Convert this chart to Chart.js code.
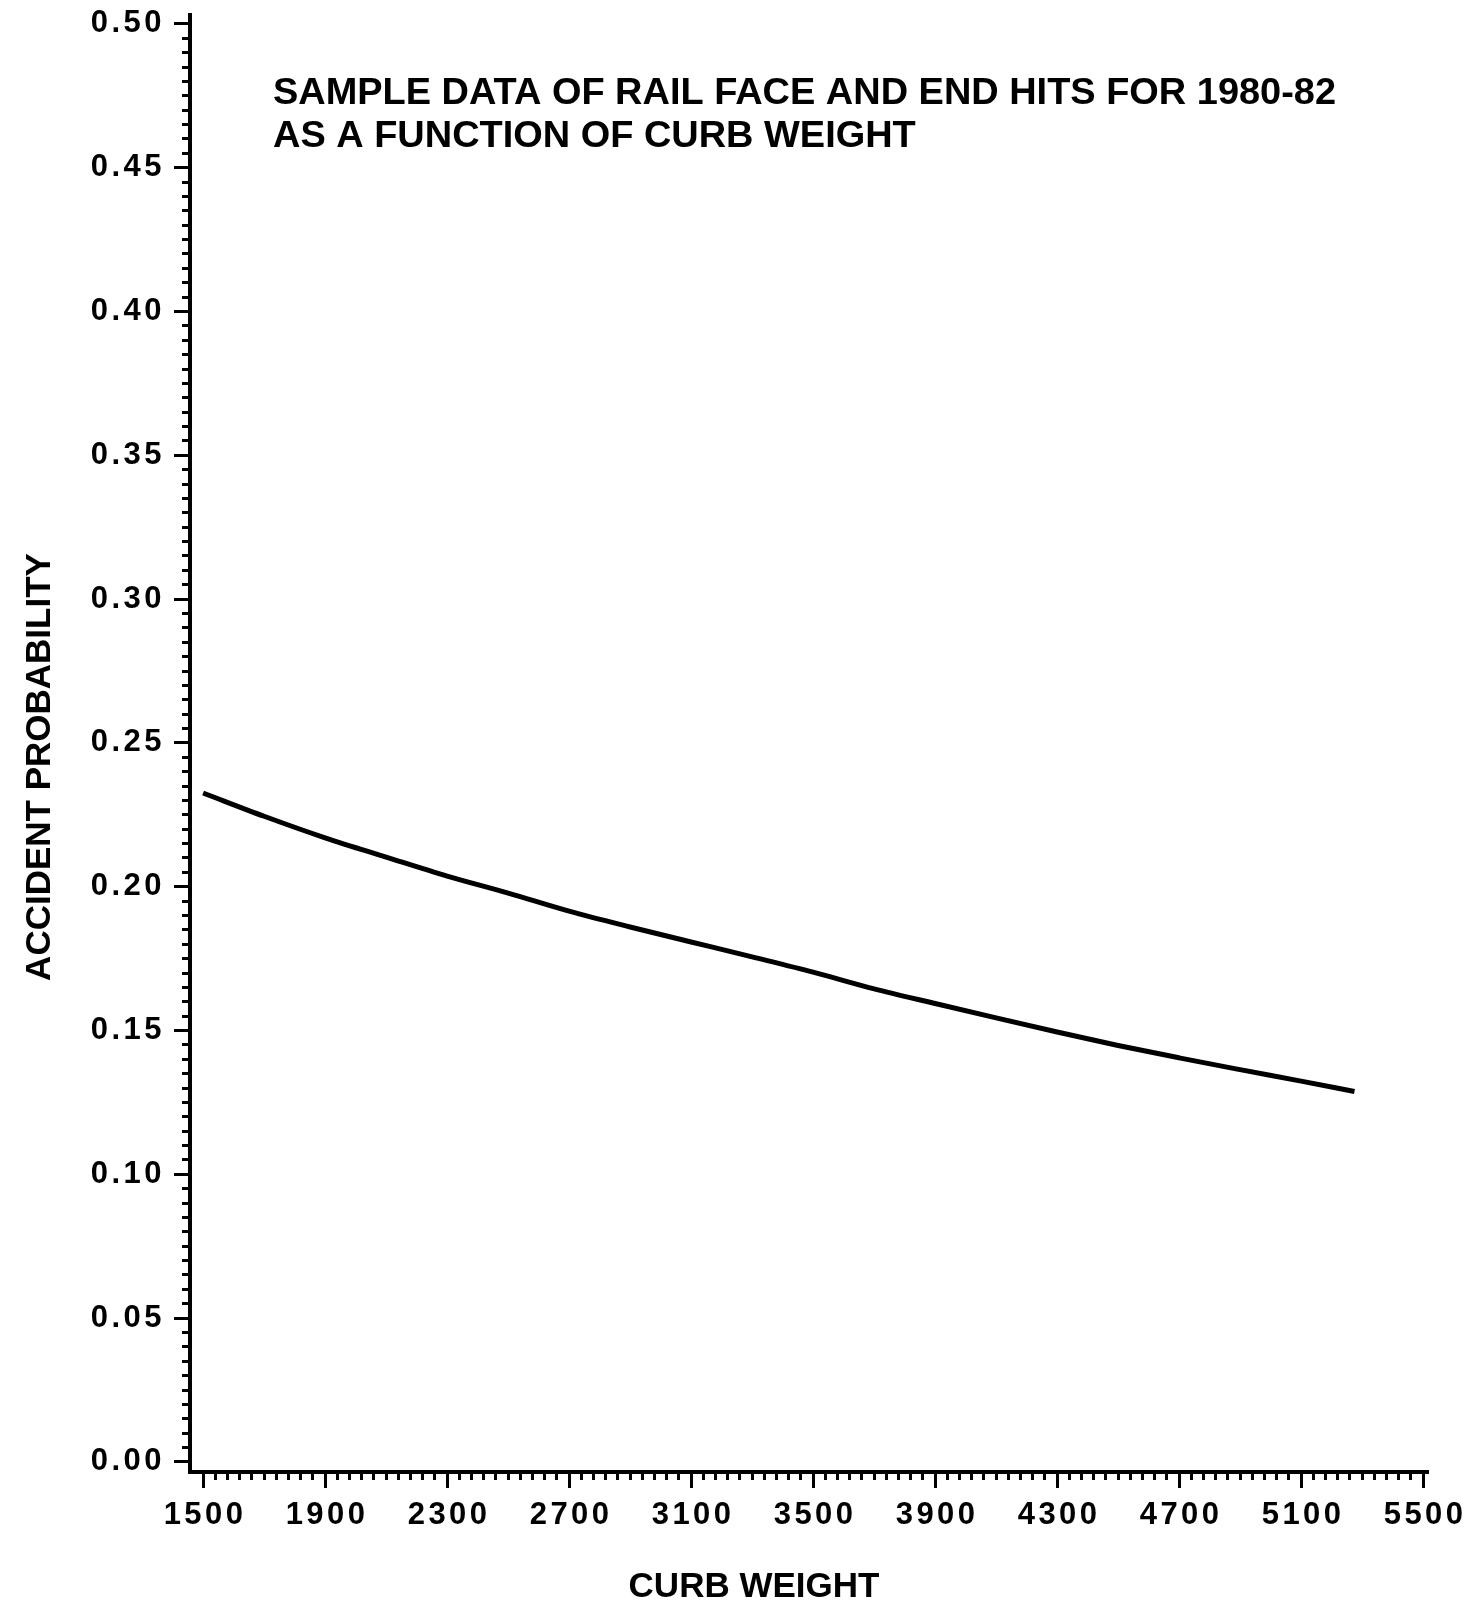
<!DOCTYPE html>
<html><head><meta charset="utf-8">
<script src="https://cdn.jsdelivr.net/npm/chart.js@4"></script>
<style>html,body{margin:0;padding:0;background:#fff}#wrap{width:1470px;height:1602px}</style>
</head><body><div id="wrap"><canvas id="c" width="1470" height="1602"></canvas></div>
<script>
const curbWeight = [1500,1700,1900,2100,2300,2500,2700,2900,3100,3300,3500,3700,3900,4100,4300,4500,4700,4900,5100,5275];
const probability = [0.2326,0.2245,0.2170,0.2103,0.2037,0.1978,0.1915,0.1860,0.1808,0.1756,0.1703,0.1645,0.1594,0.1544,0.1495,0.1448,0.1405,0.1364,0.1324,0.1288];
const xTickValues = [1500,1900,2300,2700,3100,3500,3900,4300,4700,5100,5500];
const yTickValues = [0,0.05,0.10,0.15,0.20,0.25,0.30,0.35,0.40,0.45,0.50];
const yTickLabels = ['0.00','0.05','0.10','0.15','0.20','0.25','0.30','0.35','0.40','0.45','0.50'];
const xMinorStep = 40;
const yMinorStep = 0.005;
const titleLines = ['SAMPLE DATA OF RAIL FACE AND END HITS FOR 1980-82','AS A FUNCTION OF CURB WEIGHT'];
const xAxisTitle = 'CURB WEIGHT';
const yAxisTitle = 'ACCIDENT PROBABILITY';

const X_MIN = 1457, X_MAX = 5516, Y_MIN = -0.0035, Y_MAX = 0.5031;
const FONT = '"Liberation Sans", Arial, Helvetica, sans-serif';

function minorTicks(from, to, step) {
  const out = [];
  const n = Math.round((to - from) / step);
  for (let i = 0; i <= n; i++) out.push({ value: +(from + i * step).toFixed(6) });
  return out;
}

const textPlugin = {
  id: 'texts',
  beforeDraw(chart) { chart.ctx.letterSpacing = '3.5px'; },
  afterDraw(chart) {
    const ctx = chart.ctx;
    ctx.save();
    ctx.letterSpacing = '0px';
    ctx.fillStyle = '#000';
    ctx.textBaseline = 'alphabetic';
    ctx.font = 'bold 37px ' + FONT;
    const w = ctx.measureText(titleLines[0]).width;
    const sx = 1063 / w;
    titleLines.forEach((t, i) => {
      ctx.save();
      ctx.translate(273, 104 + i * 43);
      ctx.scale(sx, 1);
      ctx.textAlign = 'left';
      ctx.fillText(t, 0, 0);
      ctx.restore();
    });
    ctx.textAlign = 'center';
    ctx.font = 'bold 35px ' + FONT;
    ctx.fillText(xAxisTitle, 754, 1597);
    ctx.save();
    ctx.translate(50, 767);
    ctx.rotate(-Math.PI / 2);
    ctx.fillText(yAxisTitle, 0, 0);
    ctx.restore();
    ctx.restore();
  }
};

const tickFont = { family: FONT, size: 31, weight: 'bold' };

new Chart(document.getElementById('c'), {
  type: 'line',
  data: {
    datasets: [{
      data: curbWeight.map((x, i) => ({ x: x, y: probability[i] })),
      borderColor: '#000',
      borderWidth: 5,
      pointRadius: 0,
      fill: false,
      cubicInterpolationMode: 'monotone',
      xAxisID: 'x',
      yAxisID: 'y'
    }]
  },
  options: {
    responsive: false,
    animation: false,
    devicePixelRatio: 1,
    layout: { padding: { top: 15, bottom: 50, left: 0, right: 42 } },
    plugins: { legend: { display: false }, tooltip: { enabled: false }, title: { display: false } },
    scales: {
      x: {
        type: 'linear', position: 'bottom', min: X_MIN, max: X_MAX, weight: 1,
        afterBuildTicks: s => { s.ticks = xTickValues.map(v => ({ value: v })); },
        afterFit: s => { s.height = 80; s.paddingLeft = 0; s.paddingRight = 0; },
        ticks: { autoSkip: false, maxRotation: 0, color: '#000', font: tickFont, padding: 9, labelOffset: 2, callback: v => String(v) },
        grid: { drawOnChartArea: false, drawTicks: true, tickLength: 16, tickWidth: 3, tickColor: '#000', color: '#000' },
        border: { display: true, color: '#000', width: 4 }
      },
      xMinor: {
        type: 'linear', position: 'bottom', min: X_MIN, max: X_MAX, weight: 0,
        afterBuildTicks: s => { s.ticks = minorTicks(xTickValues[0], xTickValues[xTickValues.length - 1], xMinorStep); },
        afterFit: s => { s.height = 0; s.paddingLeft = 0; s.paddingRight = 0; },
        ticks: { display: false, autoSkip: false },
        grid: { drawOnChartArea: false, drawTicks: true, tickLength: 8, tickWidth: 3, tickColor: '#000', color: '#000' },
        border: { display: false }
      },
      y: {
        type: 'linear', position: 'left', min: Y_MIN, max: Y_MAX, weight: 1,
        afterBuildTicks: s => { s.ticks = yTickValues.map(v => ({ value: v })); },
        afterFit: s => { s.width = 190; s.paddingTop = 0; s.paddingBottom = 0; },
        ticks: { autoSkip: false, color: '#000', font: tickFont, padding: 9, callback: (v, i) => yTickLabels[i] },
        grid: { drawOnChartArea: false, drawTicks: true, tickLength: 16, tickWidth: 3, tickColor: '#000', color: '#000' },
        border: { display: true, color: '#000', width: 4 }
      },
      yMinor: {
        type: 'linear', position: 'left', min: Y_MIN, max: Y_MAX, weight: 0,
        afterBuildTicks: s => { s.ticks = minorTicks(yTickValues[0], yTickValues[yTickValues.length - 1], yMinorStep); },
        afterFit: s => { s.width = 0; s.paddingTop = 0; s.paddingBottom = 0; },
        ticks: { display: false, autoSkip: false },
        grid: { drawOnChartArea: false, drawTicks: true, tickLength: 8, tickWidth: 3, tickColor: '#000', color: '#000' },
        border: { display: false }
      }
    }
  },
  plugins: [textPlugin]
});
</script>
</body></html>
